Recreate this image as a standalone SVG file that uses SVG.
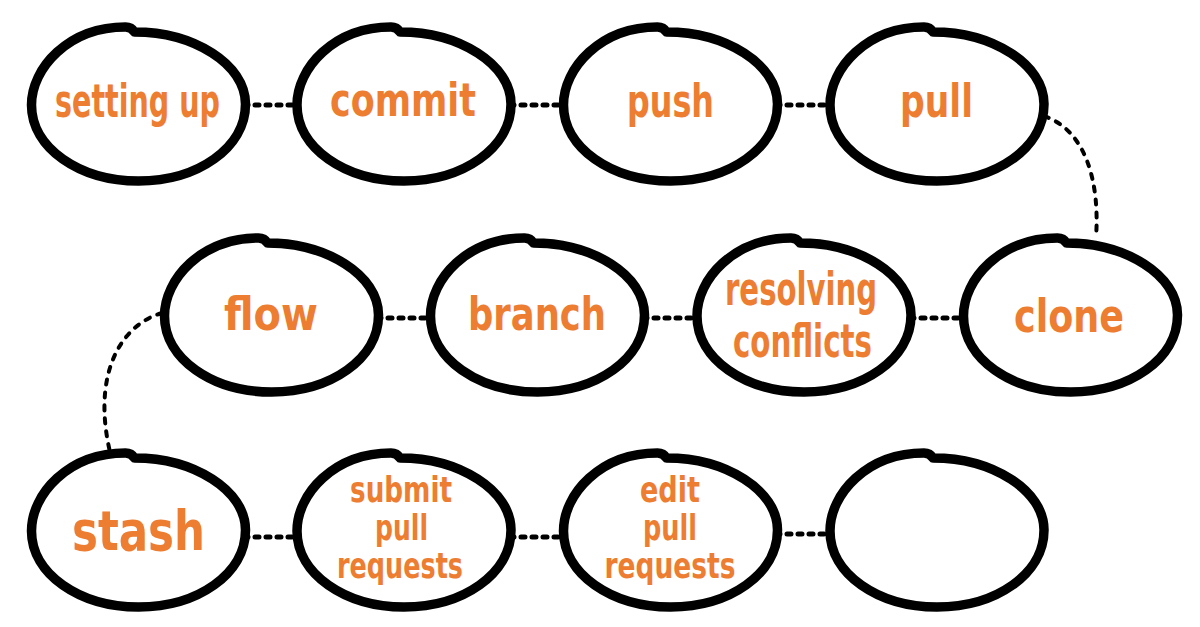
<svg xmlns="http://www.w3.org/2000/svg" xmlns:xlink="http://www.w3.org/1999/xlink" width="1200" height="627" viewBox="0 0 1200 627">
  <style>
    .blob { fill: #ffffff; stroke: #000000; stroke-width: 9.5; stroke-linejoin: round; stroke-linecap: round; }
    .link { fill: none; stroke: #000000; stroke-width: 5; stroke-linecap: round; stroke-dasharray: 4 7; }
    .arc { fill: none; stroke: #000000; stroke-width: 4; stroke-linecap: round; stroke-dasharray: 5 8; }
    .label { fill: #ED7D31; font-family: "DejaVu Sans Condensed", "DejaVu Sans", sans-serif; font-weight: bold; text-anchor: middle; }
    .big { font-size: 46px; }
    .huge { font-size: 56px; }
    .small { font-size: 36px; }
  </style>
  <defs>
    <!-- hand-drawn oval, centred on 0,0, with the pen-lift notch at the top -->
    <path id="blob" class="blob" d="M -4,-72 C 55,-72 107,-40 107,0 C 107,44 59,77 0,77 C -59,77 -107,44 -107,1 C -107,-36 -70,-77 -13,-77 Q -7,-77 -4,-72 Z"/>
  </defs>

  <rect width="1200" height="627" fill="#ffffff"/>

  <!-- dashed connectors, drawn under the ovals -->
  <g id="connectors">
    <line class="link" x1="244" y1="105" x2="298" y2="105"/>
    <line class="link" x1="510" y1="105" x2="564" y2="105"/>
    <line class="link" x1="776" y1="105" x2="831" y2="105"/>
    <path class="arc" d="M 1044,116 C 1085,130 1100,180 1096,238"/>
    <line class="link" x1="377" y1="318" x2="432" y2="318"/>
    <line class="link" x1="643" y1="318" x2="698" y2="318"/>
    <line class="link" x1="910" y1="318" x2="965" y2="318"/>
    <path class="arc" d="M 162,313 C 120,325 92,375 110,452"/>
    <line class="link" x1="244" y1="537" x2="298" y2="537"/>
    <line class="link" x1="510" y1="537" x2="564" y2="537"/>
    <line class="link" x1="776" y1="534" x2="831" y2="534"/>
  </g>

  <g id="node-setting-up">
    <use xlink:href="#blob" href="#blob" transform="translate(138.5,104)"/>
    <text class="label big" x="137.5" y="117" textLength="165" lengthAdjust="spacingAndGlyphs">setting up</text>
  </g>
  <g id="node-commit">
    <use xlink:href="#blob" href="#blob" transform="translate(404,104)"/>
    <text class="label big" x="403" y="116" textLength="146" lengthAdjust="spacingAndGlyphs">commit</text>
  </g>
  <g id="node-push">
    <use xlink:href="#blob" href="#blob" transform="translate(670.5,104)"/>
    <text class="label big" x="670.5" y="117" textLength="87" lengthAdjust="spacingAndGlyphs">push</text>
  </g>
  <g id="node-pull">
    <use xlink:href="#blob" href="#blob" transform="translate(937,104)"/>
    <text class="label big" x="936.5" y="117" textLength="73" lengthAdjust="spacingAndGlyphs">pull</text>
  </g>

  <g id="node-flow">
    <use xlink:href="#blob" href="#blob" transform="translate(271.5,315)"/>
    <text class="label big" x="271" y="330" textLength="94" lengthAdjust="spacingAndGlyphs">flow</text>
  </g>
  <g id="node-branch">
    <use xlink:href="#blob" href="#blob" transform="translate(537.5,315)"/>
    <text class="label big" x="537" y="330" textLength="138" lengthAdjust="spacingAndGlyphs">branch</text>
  </g>
  <g id="node-resolving-conflicts">
    <use xlink:href="#blob" href="#blob" transform="translate(804,315)"/>
    <text class="label big" x="801" y="305" textLength="152" lengthAdjust="spacingAndGlyphs">resolving</text>
    <text class="label big" x="802.5" y="357" textLength="139" lengthAdjust="spacingAndGlyphs">conflicts</text>
  </g>
  <g id="node-clone">
    <use xlink:href="#blob" href="#blob" transform="translate(1070.5,315)"/>
    <text class="label big" x="1069" y="332" textLength="110" lengthAdjust="spacingAndGlyphs">clone</text>
  </g>

  <g id="node-stash">
    <use xlink:href="#blob" href="#blob" transform="translate(138.5,530)"/>
    <text class="label huge" x="138.5" y="550" textLength="133" lengthAdjust="spacingAndGlyphs">stash</text>
  </g>
  <g id="node-submit-pull-requests">
    <use xlink:href="#blob" href="#blob" transform="translate(404,530)"/>
    <text class="label small" x="401" y="502" textLength="102" lengthAdjust="spacingAndGlyphs">submit</text>
    <text class="label small" x="401.5" y="540" textLength="53" lengthAdjust="spacingAndGlyphs">pull</text>
    <text class="label small" x="400" y="578" textLength="126" lengthAdjust="spacingAndGlyphs">requests</text>
  </g>
  <g id="node-edit-pull-requests">
    <use xlink:href="#blob" href="#blob" transform="translate(670.5,530)"/>
    <text class="label small" x="670" y="502" textLength="60" lengthAdjust="spacingAndGlyphs">edit</text>
    <text class="label small" x="670" y="540" textLength="54" lengthAdjust="spacingAndGlyphs">pull</text>
    <text class="label small" x="670" y="578" textLength="131" lengthAdjust="spacingAndGlyphs">requests</text>
  </g>
  <g id="node-empty">
    <use xlink:href="#blob" href="#blob" transform="translate(937,530)"/>
  </g>
</svg>
